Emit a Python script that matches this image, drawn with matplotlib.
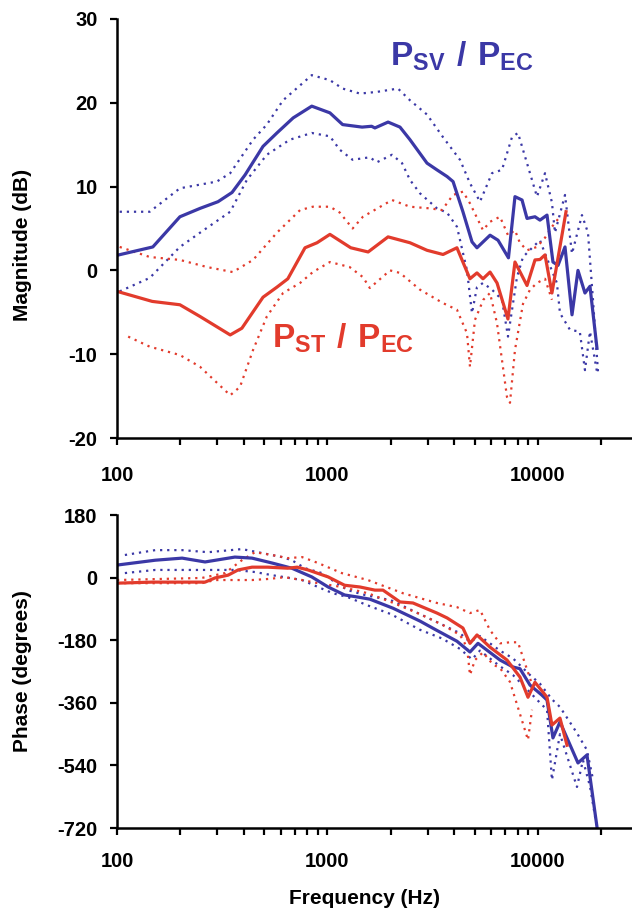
import matplotlib
matplotlib.use("Agg")
import matplotlib.pyplot as plt
from matplotlib.ticker import FixedLocator, LogLocator, NullFormatter, FuncFormatter

plt.rcParams["font.family"] = ["Liberation Sans", "DejaVu Sans"]
plt.rcParams["font.weight"] = "bold"
plt.rcParams["axes.labelweight"] = "bold"
plt.rcParams["axes.unicode_minus"] = False
plt.rcParams["mathtext.fontset"] = "custom"
plt.rcParams["mathtext.rm"] = "Liberation Sans:bold"
plt.rcParams["mathtext.bf"] = "Liberation Sans:bold"

BLUE = "#3b38a6"
RED = "#e23b2c"

# ── magnitude (dB) ──────────────────────────
sv_f = [100, 148, 199, 248, 302, 352, 406, 494, 575, 687, 842, 1027, 1180, 1460,
        1620, 1680, 1940, 2210, 2465, 2970, 3310, 3700, 3950, 4400, 4860, 5130,
        5920, 6460, 7240, 7775, 8400, 8870, 9680, 10220, 11040, 11780, 12450,
        13440, 14510, 15490, 16720, 17660, 19070]
sv_db = [1.8, 2.8, 6.4, 7.4, 8.2, 9.3, 11.4, 14.8, 16.4, 18.2, 19.6, 18.8, 17.4, 17.1,
         17.2, 17.0, 17.7, 17.1, 15.6, 12.8, 12.0, 11.2, 10.6, 7.0, 3.4, 2.7,
         4.2, 3.6, 1.5, 8.8, 8.4, 6.2, 6.4, 6.0, 6.6, 1.0, 0.6,
         2.8, -5.3, 0.0, -2.7, -1.9, -9.3]

sv_hi_f = [103, 143, 199, 298, 345, 443, 515, 615, 842, 1027, 1180, 1426, 1716, 2162,
           2465, 2970, 3538, 4261, 4753, 5303, 6047, 6745, 7524, 8035, 8676, 9890,
           10800, 11650, 12040, 13440, 14510, 16180, 17280, 18250, 19280]
sv_hi_db = [7.0, 7.0, 9.8, 10.6, 11.6, 15.6, 17.4, 20.3, 23.3, 22.7, 21.7, 21.1, 21.3, 21.7,
            20.3, 18.6, 15.9, 13.2, 10.4, 8.2, 11.6, 12.0, 15.9, 16.4, 13.6, 8.8,
            11.6, 8.1, 4.5, 9.0, 2.0, 6.6, 4.5, -3.5, -12.1]

sv_lo_f = [103, 143, 199, 248, 345, 414, 515, 663, 842, 1027, 1144, 1316, 1589, 1716,
           2025, 2260, 2465, 2750, 3313, 3696, 4123, 4600, 4858, 5131, 5479, 6047,
           6745, 7204, 7947, 8487, 9468, 10220, 10800, 12300, 12720, 14200, 15800,
           16720, 17660, 19070]
sv_lo_db = [-2.5, -0.9, 2.8, 4.5, 7.0, 10.8, 13.8, 15.6, 16.4, 16.0, 14.4, 13.2, 13.5, 12.9,
            13.8, 12.8, 10.8, 9.2, 7.4, 6.9, 5.2, 0.0, -5.1, -2.0, -1.5, -2.3,
            -3.5, -7.9, -0.8, 1.6, 2.8, 3.6, 2.0, -1.5, -5.1, -7.1, -7.3,
            -11.9, -7.3, -12.1]

st_f = [100, 147, 199, 248, 345, 392, 494, 575, 648, 782, 892, 1027, 1290, 1560,
        1940, 2465, 2970, 3540, 4120, 4750, 5130, 5480, 5920, 6390, 7200, 7775,
        8870, 9680, 10220, 10800, 11650, 13590]
st_db = [-2.5, -3.7, -4.1, -5.5, -7.7, -6.9, -3.2, -2.0, -1.0, 2.7, 3.3, 4.3, 2.7, 2.2,
         4.0, 3.3, 2.4, 1.9, 2.7, -1.0, -0.3, -1.0, -0.2, -1.5, -5.8, 1.0,
         -1.8, 1.25, 1.3, 1.85, -2.7, 7.0]

st_hi_f = [103, 143, 199, 268, 355, 443, 575, 741, 852, 1027, 1144, 1316, 1473, 2025,
           2465, 3069, 3500, 3947, 4403, 4753, 5479, 5916, 6600, 7204, 7775, 8200,
           8867, 9890, 10800, 11650, 12700]
st_hi_db = [2.8, 1.6, 1.25, 0.4, -0.2, 1.25, 4.5, 7.2, 7.6, 7.6, 6.9, 5.0, 6.4, 8.4,
            7.6, 7.4, 7.2, 9.0, 9.4, 8.0, 4.8, 5.8, 6.4, 4.2, 4.8, 3.3,
            2.4, 2.8, 3.9, 5.2, 6.4]

st_lo_f = [113, 143, 199, 248, 345, 384, 443, 515, 615, 741, 852, 1027, 1274, 1473,
           1589, 1981, 2210, 2750, 3538, 4123, 4600, 4753, 5020, 5500, 5916, 6387,
           7124, 7362, 7775, 8487, 9163, 9890, 10800, 11650]
st_lo_db = [-7.9, -9.1, -10.1, -11.5, -14.9, -13.9, -9.5, -5.5, -2.7, -1.5, -0.2, 1.0, 0.4, -0.8,
            -2.1, 0.0, -0.3, -2.3, -3.9, -4.7, -7.5, -11.5, -5.9, -3.5, -2.7, -6.3,
            -15.1, -15.8, -9.5, -4.0, -2.3, -1.5, -1.0, -3.5]

# ── phase (degrees) ─────────────────────────
sv_ph_f = [100, 152, 204, 262, 363, 438, 545, 677, 842, 1007, 1206, 1395, 1589, 2047,
           2750, 3313, 4123, 4753, 5188, 6600, 7607, 8212, 9163, 10440, 11040, 11780,
           12720, 15490, 17090, 19070]
sv_ph = [36, 50, 56, 45, 59, 56, 42, 27, 2, -27, -50, -56, -62, -88,
         -125, -152, -183, -214, -189, -237, -257, -262, -309, -338, -352, -461,
         -415, -533, -510, -717]

sv_ph_hi_f = [109, 152, 204, 271, 392, 467, 608, 677, 782, 941, 1085, 1247, 1505, 2000,
              2750, 3500, 4260, 4750, 5300, 6600, 7600, 9160, 10220, 11650, 12720,
              15320, 17090, 18250]
sv_ph_hi = [65, 79, 79, 73, 82, 73, 59, 50, 27, 13, -13, -36, -50, -65,
            -105, -135, -160, -185, -168, -210, -232, -280, -305, -350, -372,
            -447, -496, -580]

sv_ph_lo_f = [109, 152, 204, 292, 363, 452, 545, 628, 757, 901, 1061, 1247, 1538, 2000,
              2750, 3500, 4260, 4858, 5300, 6600, 7600, 9160, 10220, 11040, 11650,
              12720, 15320, 16360, 17660, 19070]
sv_ph_lo = [13, 22, 22, 22, 22, 16, 7, 1, -7, -27, -45, -56, -79, -105,
            -150, -175, -205, -235, -210, -255, -280, -330, -360, -380, -582,
            -450, -602, -525, -600, -720]

st_ph_f = [100, 147, 204, 262, 292, 337, 376, 438, 521, 648, 718, 808, 1007, 1206,
           1426, 1679, 1835, 2210, 2548, 3313, 3700, 4400, 4753, 5131, 5916, 7124,
           8212, 8966, 9677, 11040, 11650, 12720, 13740]
st_ph = [-16, -13, -13, -13, -1, 7, 22, 30, 30, 27, 30, 22, 2, -22,
         -27, -36, -36, -70, -73, -102, -116, -145, -189, -165, -200, -237,
         -286, -344, -301, -344, -424, -404, -482]

st_ph_hi_f = [100, 253, 326, 392, 452, 545, 648, 757, 901, 1169, 1555, 2284, 3313, 4123,
              4753, 5303, 5916, 6600, 7362, 8035, 8676, 9468]
st_ph_hi = [-7, -1, 13, 50, 73, 65, 56, 59, 42, 13, -7, -45, -73, -85,
            -102, -93, -151, -189, -186, -186, -247, -315]

st_ph_lo_f = [100, 253, 292, 363, 438, 521, 628, 757, 901, 1169, 1555, 2000, 2750, 3500,
              4260, 4600, 4753, 5020, 5479, 6113, 6600, 7362, 8487, 8966, 9366]
st_ph_lo = [-16, -16, -7, -7, -7, -4, 1, -7, -16, -27, -45, -70, -105, -135,
            -165, -200, -280, -237, -215, -250, -260, -300, -420, -467, -380]

DOT = (0, (1.0, 2.2))


def style_axes(ax, yticks, ylim, xpad):
    ax.set_xscale("log")
    ax.set_xlim(100, 27970)
    ax.set_ylim(*ylim)
    ax.set_yticks(yticks)
    ax.xaxis.set_major_locator(FixedLocator([100, 1000, 10000]))
    ax.xaxis.set_major_formatter(FuncFormatter(lambda v, p: f"{v:.0f}"))
    ax.xaxis.set_minor_locator(LogLocator(base=10, subs=range(2, 10), numticks=20))
    ax.xaxis.set_minor_formatter(NullFormatter())
    for s in ("top", "right"):
        ax.spines[s].set_visible(False)
    for s in ("left", "bottom"):
        ax.spines[s].set_linewidth(1.8)
    ax.tick_params(axis="y", which="major", length=5, width=1.6, pad=9, labelsize=14.5)
    ax.tick_params(axis="x", which="both", length=5, width=1.6, pad=xpad, labelsize=14.5)


fig = plt.figure(figsize=(6.32, 9.13), dpi=100)
ax1 = fig.add_axes([117 / 632, 1 - 438 / 913, 515 / 632, 419 / 913])
ax2 = fig.add_axes([117 / 632, 1 - 828 / 913, 515 / 632, 313 / 913])

# magnitude panel
ax1.plot(sv_hi_f, sv_hi_db, color=BLUE, lw=1.6, ls=DOT)
ax1.plot(sv_lo_f, sv_lo_db, color=BLUE, lw=1.6, ls=DOT)
ax1.plot(st_hi_f, st_hi_db, color=RED, lw=1.6, ls=DOT)
ax1.plot(st_lo_f, st_lo_db, color=RED, lw=1.6, ls=DOT)
ax1.plot(sv_f, sv_db, color=BLUE, lw=2.3)
ax1.plot(st_f, st_db, color=RED, lw=2.3)
style_axes(ax1, [-20, -10, 0, 10, 20, 30], (-20, 30), 15)
ax1.set_ylabel("Magnitude (dB)", fontsize=15, va="center")
ax1.yaxis.set_label_coords(-0.183, 0.46)

# phase panel
ax2.plot(sv_ph_hi_f, sv_ph_hi, color=BLUE, lw=1.6, ls=DOT)
ax2.plot(sv_ph_lo_f, sv_ph_lo, color=BLUE, lw=1.6, ls=DOT)
ax2.plot(st_ph_hi_f, st_ph_hi, color=RED, lw=1.6, ls=DOT)
ax2.plot(st_ph_lo_f, st_ph_lo, color=RED, lw=1.6, ls=DOT)
ax2.plot(sv_ph_f, sv_ph, color=BLUE, lw=2.3)
ax2.plot(st_ph_f, st_ph, color=RED, lw=2.3)
style_axes(ax2, [-720, -540, -360, -180, 0, 180], (-720, 180), 12)
ax2.set_ylabel("Phase (degrees)", fontsize=15, va="center")
ax2.yaxis.set_label_coords(-0.183, 0.50)
ax2.set_xlabel("Frequency (Hz)", fontsize=15, va="center")
ax2.xaxis.set_label_coords(0.48, -0.224)

# curve labels
fig.text(390 / 632, 1 - 66 / 913, r"$\mathbf{P_{SV}\ /\ P_{EC}}$",
         color=BLUE, fontsize=24, ha="left", va="baseline")
fig.text(272 / 632, 1 - 348 / 913, r"$\mathbf{P_{ST}\ /\ P_{EC}}$",
         color=RED, fontsize=24, ha="left", va="baseline")

fig.savefig("out.png", dpi=100, facecolor="white")
